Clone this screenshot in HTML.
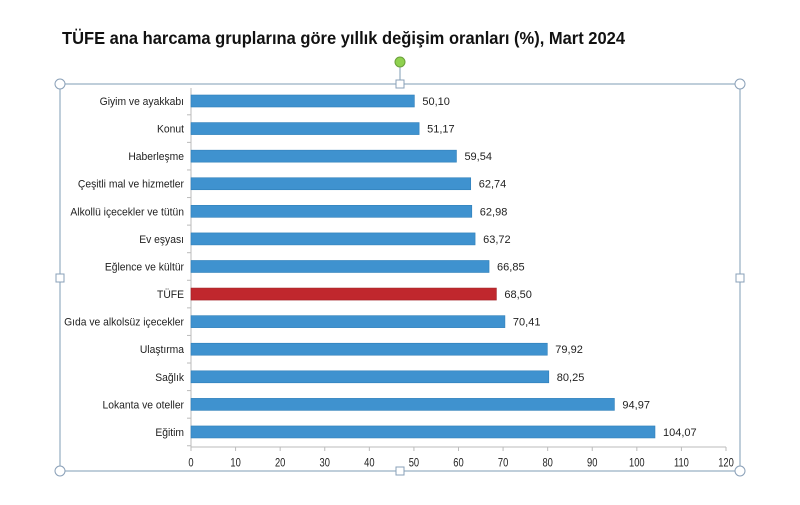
<!DOCTYPE html>
<html><head><meta charset="utf-8"><style>
body{margin:0;background:#fff;}
</style></head><body>
<svg width="800" height="500" xmlns="http://www.w3.org/2000/svg" font-family="Liberation Sans, sans-serif">
<rect width="800" height="500" fill="#fff"/>
<text x="62" y="44" font-size="17.5" font-weight="bold" fill="#111" textLength="563" lengthAdjust="spacingAndGlyphs">TÜFE ana harcama gruplarına göre yıllık değişim oranları (%), Mart 2024</text>
<rect x="60" y="84" width="680" height="387" fill="none" stroke="#7f9cb5" stroke-width="1"/>
<line x1="400" y1="62" x2="400" y2="84" stroke="#7f9cb5"/>
<circle cx="400" cy="62" r="5" fill="#8fd14f" stroke="#6aa03a"/>
<g fill="#fff" stroke="#8aa0b8">
<circle cx="60" cy="84" r="5"/><circle cx="740" cy="84" r="5"/><circle cx="60" cy="471" r="5"/><circle cx="740" cy="471" r="5"/>
<rect x="396" y="80" width="8" height="8"/><rect x="396" y="467" width="8" height="8"/>
<rect x="56" y="274" width="8" height="8"/><rect x="736" y="274" width="8" height="8"/>
</g>
<line x1="191" y1="88" x2="191" y2="447" stroke="#bbb"/>
<line x1="191" y1="447" x2="726" y2="447" stroke="#bbb"/>
<g font-size="11" fill="#222" text-anchor="middle" id="xt"></g>
<g id="bars"></g>
</svg>
<script>
var d=[["Giyim ve ayakkabı",50.10],["Konut",51.17],["Haberleşme",59.54],["Çeşitli mal ve hizmetler",62.74],["Alkollü içecekler ve tütün",62.98],["Ev eşyası",63.72],["Eğlence ve kültür",66.85],["TÜFE",68.50],["Gıda ve alkolsüz içecekler",70.41],["Ulaştırma",79.92],["Sağlık",80.25],["Lokanta ve oteller",94.97],["Eğitim",104.07]];
var ns="http://www.w3.org/2000/svg",s=535/120;
function el(t,a,p,txt){var e=document.createElementNS(ns,t);for(var k in a)e.setAttribute(k,a[k]);if(txt!=null)e.textContent=txt;p.appendChild(e);return e;}
var xt=document.getElementById("xt"),b=document.getElementById("bars");
for(var i=0;i<=12;i++){var x=191+i*10*s;el("line",{x1:x,y1:447,x2:x,y2:451,stroke:"#bbb"},xt);el("text",{x:x,y:466,transform:"translate("+x+",0) scale(0.85,1.1) translate("+(-x)+",-42)"},xt,String(i*10));}
d.forEach(function(r,i){var y=101+i*27.58,w=r[1]*s;
el("rect",{x:191,y:y-6,width:w,height:12,fill:r[0]=="TÜFE"?"#c0272d":"#3f92cf",stroke:r[0]=="TÜFE"?"#a01f24":"#2f7fb9","stroke-width":0.6},b);
el("text",{x:184,y:y+4,"font-size":"11","text-anchor":"end",fill:"#222",transform:"translate(184,0) scale(0.94,1) translate(-184,0)"},b,r[0]);
el("text",{x:191+w+8,y:y+4,"font-size":"11",fill:"#222"},b,r[1].toFixed(2).replace(".",","));
el("line",{x1:187,y1:y+13.8,x2:191,y2:y+13.8,stroke:"#bbb"},b);});
</script>
</body></html>
